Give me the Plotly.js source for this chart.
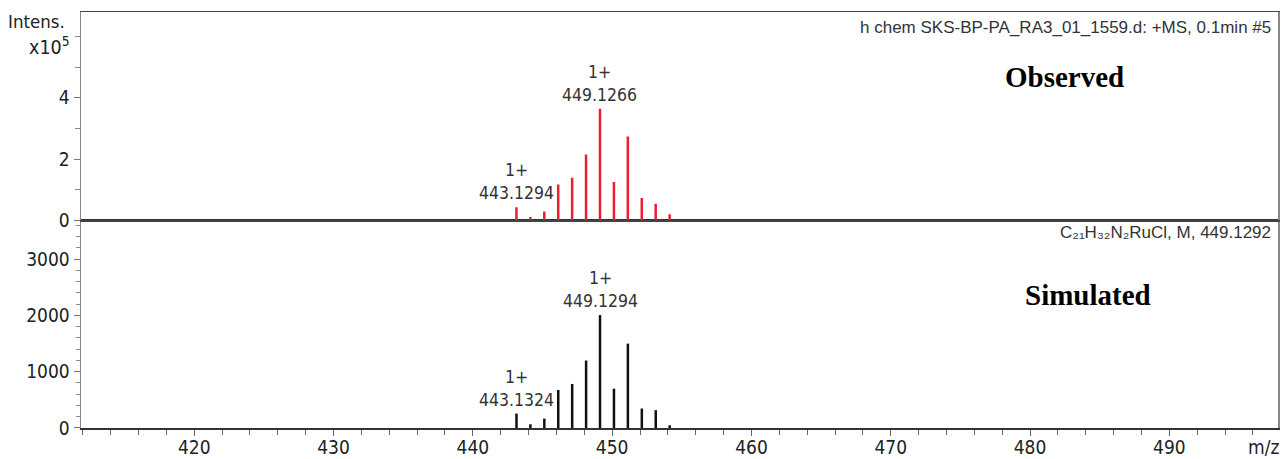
<!DOCTYPE html>
<html>
<head>
<meta charset="utf-8">
<script src="https://cdn.plot.ly/plotly-3.0.1.min.js"></script>
<style>html,body{margin:0;padding:0;background:#fff;}#chart{width:1284px;height:459px;}</style>
</head>
<body>
<div id="chart"></div>
<script>
// ---- Data ----
// Observed spectrum (+MS): m/z and intensity in units of 10^5
const obsMz = [443.1294, 444.130, 445.128, 446.128, 447.127, 448.127, 449.1266, 450.128, 451.126, 452.128, 453.126, 454.130];
const obsInt = [0.43, 0.11, 0.29, 1.17, 1.39, 2.15, 3.64, 1.25, 2.74, 0.73, 0.54, 0.20];
// Simulated isotope pattern for C21H32N2RuCl
const simMz = [443.1324, 444.132, 445.131, 446.131, 447.130, 448.130, 449.1294, 450.130, 451.129, 452.131, 453.129, 454.132];
const simInt = [256, 66, 167, 676, 783, 1200, 2007, 699, 1500, 346, 317, 48];
// Peaks that carry a charge / m/z label
const obsLabelIdx = [0, 6];
const simLabelIdx = [0, 6];
const chargeLabel = "1+";
// Axis ticks
const xTickVals = [420, 430, 440, 450, 460, 470, 480, 490];
const topTickVals = [0, 2, 4];
const botTickVals = [0, 1000, 2000, 3000];
// Texts
const obsHeader = "h chem SKS-BP-PA_RA3_01_1559.d: +MS, 0.1min #5";
const simHeader = "C\u2082\u2081H\u2083\u2082N\u2082RuCl, M, 449.1292";
const obsTitle = "Observed";
const simTitle = "Simulated";
const yUnitTop = "Intens.";
const yScaleTop = "x10<sup>5</sup>";
const xTitle = "m/z";

// ---- Build stick traces ----
function sticks(mz, inten) {
  const x = [], y = [];
  mz.forEach((m, i) => { x.push(m, m, null); y.push(0, inten[i], null); });
  return {x, y};
}
const so = sticks(obsMz, obsInt);
const ss = sticks(simMz, simInt);

const sansFam = "DejaVu Sans Condensed, Liberation Sans, sans-serif";
const tickFont = {family: sansFam, size: 19, color: "#222"};
const annFont = {family: sansFam, size: 17.5, color: "#333"};
const leftFont = {family: sansFam, size: 18.5, color: "#222"};
const scaleFont = {family: sansFam, size: 19.5, color: "#222"};
const hdrFont = {family: "Liberation Sans, sans-serif", size: 17, color: "#333"};
const boldSerif = {family: "Liberation Serif, Times New Roman, serif", size: 29, color: "#000"};

const traces = [
  {x: so.x, y: so.y, xaxis: "x2", yaxis: "y2", mode: "lines", type: "scatter",
   line: {color: "rgb(235,30,50)", width: 2.5}, hoverinfo: "skip"},
  {x: ss.x, y: ss.y, xaxis: "x", yaxis: "y", mode: "lines", type: "scatter",
   line: {color: "#111", width: 2.5}, hoverinfo: "skip"}
];

const annotations = [];
obsLabelIdx.forEach(i => annotations.push({
  x: obsMz[i], y: obsInt[i], xref: "x2", yref: "y2", showarrow: false,
  xanchor: "center", yanchor: "bottom", yshift: 2,
  text: chargeLabel + "<br>" + obsMz[i].toFixed(4), font: annFont
}));
simLabelIdx.forEach(i => annotations.push({
  x: simMz[i], y: simInt[i], xref: "x", yref: "y", showarrow: false,
  xanchor: "center", yanchor: "bottom", yshift: 2,
  text: chargeLabel + "<br>" + simMz[i].toFixed(4), font: annFont
}));
annotations.push(
  {x: 0.9958, y: 0.9639, xref: "paper", yref: "paper", xanchor: "right", yanchor: "middle", showarrow: false, text: obsHeader, font: hdrFont},
  {x: 0.9958, y: 0.4688, xref: "paper", yref: "paper", xanchor: "right", yanchor: "middle", showarrow: false, text: simHeader, font: hdrFont},
  {x: 0.822, y: 0.8438, xref: "paper", yref: "paper", xanchor: "center", yanchor: "middle", showarrow: false, text: "<b>" + obsTitle + "</b>", font: boldSerif},
  {x: 0.8413, y: 0.3197, xref: "paper", yref: "paper", xanchor: "center", yanchor: "middle", showarrow: false, text: "<b>" + simTitle + "</b>", font: boldSerif},
  {x: -0.0117, y: 0.976, xref: "paper", yref: "paper", xanchor: "right", yanchor: "middle", showarrow: false, text: yUnitTop, font: leftFont},
  {x: -0.0075, y: 0.918, xref: "paper", yref: "paper", xanchor: "right", yanchor: "middle", showarrow: false, text: yScaleTop, font: scaleFont},
  {x: 0.9875, y: -0.0457, xref: "paper", yref: "paper", xanchor: "center", yanchor: "middle", showarrow: false, text: xTitle, font: tickFont}
);

const xRange = [411.87, 497.8];
const layout = {
  width: 1284, height: 459,
  margin: {l: 81, r: 6, t: 12, b: 31, pad: 0},
  paper_bgcolor: "#fff", plot_bgcolor: "#fff",
  showlegend: false,
  xaxis: {
    domain: [0, 1], anchor: "y", range: xRange,
    tickvals: xTickVals, ticks: "outside", ticklen: 6, tickcolor: "#666", tickwidth: 1,
    ticklabelstandoff: -4,
    minor: {dtick: 2, tick0: 0, ticks: "outside", ticklen: 5, tickcolor: "#666", showgrid: false},
    showline: true, linecolor: "#333", linewidth: 1.5, mirror: true,
    showgrid: false, zeroline: false, tickfont: tickFont
  },
  yaxis: {
    domain: [0, 0.499], anchor: "x", range: [0, 3690],
    tickvals: botTickVals, ticks: "outside", ticklen: 6, tickcolor: "#777",
    minor: {dtick: 200, tick0: 0, ticks: "outside", ticklen: 4, tickcolor: "#888", showgrid: false},
    showline: true, linecolor: "#888", linewidth: 1.5, mirror: true,
    showgrid: false, zeroline: false, tickfont: tickFont
  },
  xaxis2: {
    domain: [0, 1], anchor: "y2", range: xRange, matches: "x",
    showticklabels: false, ticks: "",
    showline: true, linecolor: "#444", linewidth: 1.5, mirror: true,
    showgrid: false, zeroline: false
  },
  yaxis2: {
    domain: [0.499, 1], anchor: "x2", range: [0, 6.8],
    tickvals: topTickVals, ticks: "outside", ticklen: 6, tickcolor: "#777",
    minor: {dtick: 1, tick0: 0, ticks: "outside", ticklen: 5, tickcolor: "#888", showgrid: false},
    showline: true, linecolor: "#888", linewidth: 1.5, mirror: true,
    showgrid: false, zeroline: false, tickfont: tickFont
  },
  annotations: annotations
};

Plotly.newPlot("chart", traces, layout, {staticPlot: true, displayModeBar: false});
</script>
</body>
</html>
